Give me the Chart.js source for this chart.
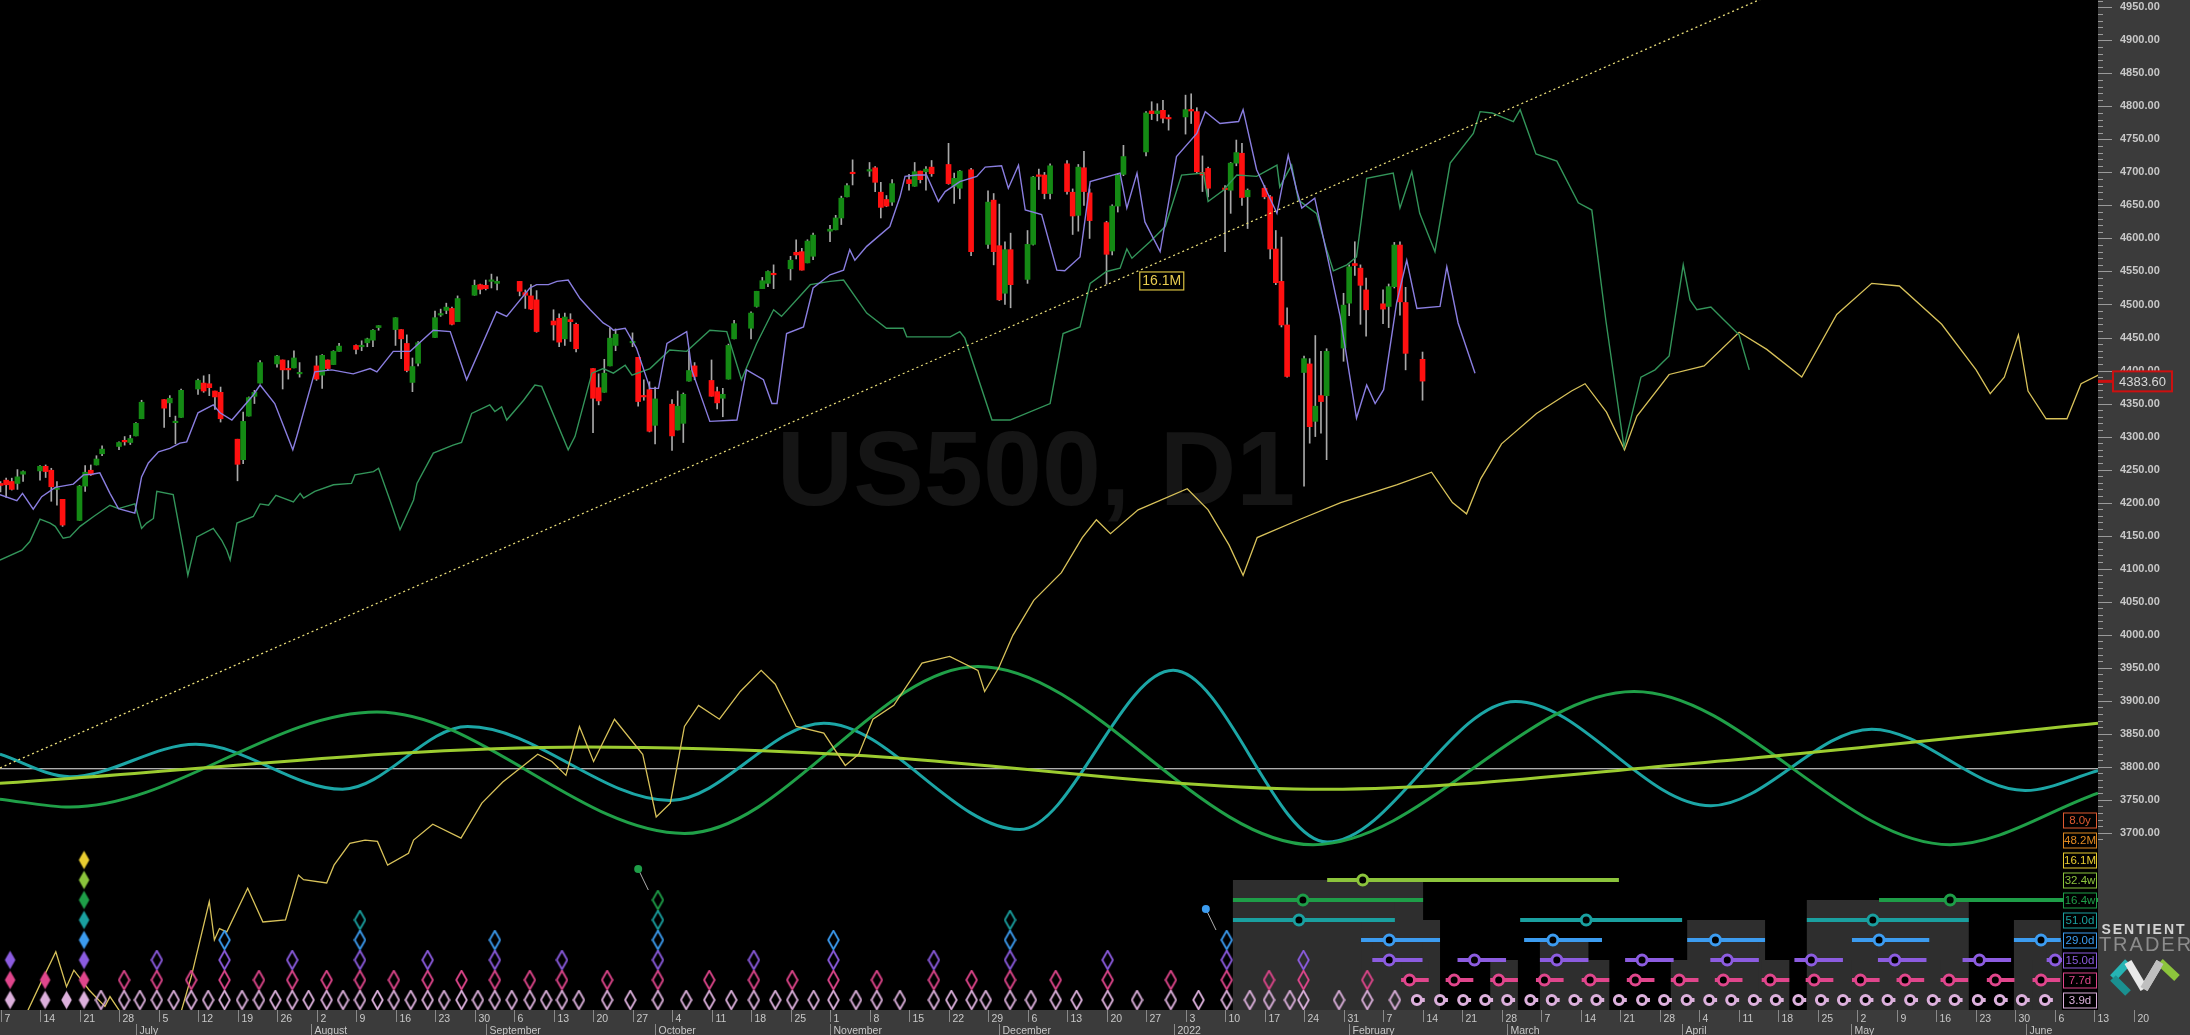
<!DOCTYPE html>
<html><head><meta charset="utf-8">
<script src="https://cdn.jsdelivr.net/npm/chart.js@4.4.1/dist/chart.umd.min.js"></script>
<style>html,body{margin:0;padding:0;background:#3b3b3b;overflow:hidden}#wrap{width:2190px;height:1035px;position:relative}canvas{display:block}</style>
</head><body><div id="wrap"><canvas id="c" width="2190" height="1035" style="width:2190px;height:1035px"></canvas></div>
<script>
// ---------- DATA ----------
const START_DATE = '2021-06-07';
const candleDates = ['2021-06-07','2021-06-08','2021-06-09','2021-06-10','2021-06-11','2021-06-14','2021-06-15','2021-06-16','2021-06-17','2021-06-18','2021-06-21','2021-06-22','2021-06-23','2021-06-24','2021-06-25','2021-06-28','2021-06-29','2021-06-30','2021-07-01','2021-07-02','2021-07-06','2021-07-07','2021-07-08','2021-07-09','2021-07-12','2021-07-13','2021-07-14','2021-07-15','2021-07-16','2021-07-19','2021-07-20','2021-07-21','2021-07-22','2021-07-23','2021-07-26','2021-07-27','2021-07-28','2021-07-29','2021-07-30','2021-08-02','2021-08-03','2021-08-04','2021-08-05','2021-08-06','2021-08-09','2021-08-10','2021-08-11','2021-08-12','2021-08-13','2021-08-16','2021-08-17','2021-08-18','2021-08-19','2021-08-20','2021-08-23','2021-08-24','2021-08-25','2021-08-26','2021-08-27','2021-08-30','2021-08-31','2021-09-01','2021-09-02','2021-09-03','2021-09-07','2021-09-08','2021-09-09','2021-09-10','2021-09-13','2021-09-14','2021-09-15','2021-09-16','2021-09-17','2021-09-20','2021-09-21','2021-09-22','2021-09-23','2021-09-24','2021-09-27','2021-09-28','2021-09-29','2021-09-30','2021-10-01','2021-10-04','2021-10-05','2021-10-06','2021-10-07','2021-10-08','2021-10-11','2021-10-12','2021-10-13','2021-10-14','2021-10-15','2021-10-18','2021-10-19','2021-10-20','2021-10-21','2021-10-22','2021-10-25','2021-10-26','2021-10-27','2021-10-28','2021-10-29','2021-11-01','2021-11-02','2021-11-03','2021-11-04','2021-11-05','2021-11-08','2021-11-09','2021-11-10','2021-11-11','2021-11-12','2021-11-15','2021-11-16','2021-11-17','2021-11-18','2021-11-19','2021-11-22','2021-11-23','2021-11-24','2021-11-26','2021-11-29','2021-11-30','2021-12-01','2021-12-02','2021-12-03','2021-12-06','2021-12-07','2021-12-08','2021-12-09','2021-12-10','2021-12-13','2021-12-14','2021-12-15','2021-12-16','2021-12-17','2021-12-20','2021-12-21','2021-12-22','2021-12-23','2021-12-27','2021-12-28','2021-12-29','2021-12-30','2021-12-31','2022-01-03','2022-01-04','2022-01-05','2022-01-06','2022-01-07','2022-01-10','2022-01-11','2022-01-12','2022-01-13','2022-01-14','2022-01-17','2022-01-18','2022-01-19','2022-01-20','2022-01-21','2022-01-24','2022-01-25','2022-01-26','2022-01-27','2022-01-28','2022-01-31','2022-02-01','2022-02-02','2022-02-03','2022-02-04','2022-02-07','2022-02-08','2022-02-09','2022-02-10','2022-02-11','2022-02-14'];
const candleOpen = [4229,4234,4232,4229,4243,4248,4255,4249,4220,4205,4173,4225,4249,4257,4274,4285,4293,4291,4301,4327,4356,4351,4321,4329,4372,4381,4380,4369,4367,4296,4265,4331,4361,4381,4410,4416,4403,4404,4395,4407,4393,4416,4409,4429,4438,4436,4442,4446,4465,4462,4462,4441,4382,4411,4450,4484,4491,4494,4474,4514,4530,4529,4535,4532,4535,4518,4513,4507,4475,4479,4448,4477,4470,4403,4374,4367,4407,4438,4442,4420,4362,4371,4317,4349,4310,4320,4384,4407,4385,4368,4358,4387,4448,4464,4497,4524,4532,4546,4554,4579,4580,4563,4573,4611,4613,4631,4663,4699,4702,4707,4670,4659,4655,4689,4679,4702,4701,4708,4712,4679,4676,4704,4591,4658,4589,4517,4583,4538,4591,4696,4696,4668,4713,4670,4635,4707,4669,4624,4581,4649,4697,4731,4793,4789,4794,4782,4784,4795,4792,4700,4706,4676,4673,4714,4729,4663,4676,4663,4584,4535,4469,4397,4410,4323,4362,4362,4434,4502,4562,4555,4522,4501,4497,4527,4590,4503,4417];
const candleHigh = [4232,4237,4237,4250,4248,4256,4257,4252,4232,4205,4226,4256,4257,4271,4286,4292,4300,4302,4321,4355,4356,4362,4331,4372,4387,4392,4394,4369,4375,4296,4337,4360,4370,4415,4423,4416,4415,4430,4412,4422,4424,4416,4430,4441,4439,4445,4449,4462,4468,4480,4462,4454,4419,4444,4490,4493,4502,4496,4513,4537,4531,4537,4546,4542,4535,4522,4530,4521,4492,4486,4487,4486,4472,4403,4395,4417,4465,4463,4457,4420,4386,4383,4375,4356,4369,4366,4429,4412,4416,4375,4373,4440,4476,4489,4520,4541,4551,4560,4573,4598,4585,4598,4608,4620,4635,4664,4683,4719,4715,4709,4685,4665,4689,4697,4715,4702,4709,4718,4744,4699,4703,4706,4672,4668,4652,4595,4608,4612,4694,4705,4700,4713,4718,4675,4712,4732,4675,4626,4651,4698,4741,4792,4807,4804,4809,4787,4817,4819,4798,4725,4708,4680,4715,4749,4744,4675,4680,4665,4612,4602,4495,4422,4418,4453,4429,4433,4517,4560,4595,4560,4540,4522,4531,4594,4595,4526,4428];
const candleLow = [4216,4208,4219,4220,4232,4234,4238,4202,4196,4164,4173,4217,4241,4257,4271,4280,4287,4288,4301,4327,4314,4330,4289,4329,4364,4367,4362,4341,4322,4233,4259,4331,4350,4381,4405,4372,4387,4404,4390,4385,4373,4400,4409,4429,4425,4430,4436,4436,4461,4438,4418,4398,4368,4407,4450,4482,4486,4469,4474,4514,4516,4522,4525,4522,4513,4494,4492,4458,4446,4436,4438,4444,4428,4306,4348,4367,4407,4430,4436,4346,4355,4307,4289,4279,4310,4291,4384,4386,4361,4342,4330,4387,4448,4448,4496,4524,4527,4524,4537,4569,4552,4563,4568,4595,4613,4621,4663,4681,4694,4671,4631,4648,4650,4673,4679,4684,4673,4694,4682,4653,4660,4574,4585,4560,4506,4500,4495,4532,4590,4674,4660,4660,4667,4606,4611,4650,4600,4531,4575,4640,4695,4725,4780,4778,4775,4764,4758,4774,4699,4671,4663,4580,4638,4710,4650,4615,4660,4569,4530,4466,4390,4225,4290,4300,4305,4265,4414,4483,4544,4470,4452,4471,4465,4525,4484,4401,4355];
const candleClose = [4226,4227,4220,4239,4247,4255,4247,4224,4222,4166,4225,4246,4242,4266,4281,4291,4292,4297,4320,4352,4343,4358,4321,4370,4385,4369,4374,4360,4327,4258,4323,4359,4367,4412,4422,4401,4401,4419,4395,4387,4423,4403,4429,4437,4432,4437,4448,4461,4468,4480,4448,4400,4406,4442,4480,4486,4496,4470,4509,4529,4523,4524,4537,4535,4520,4514,4493,4459,4469,4443,4481,4474,4433,4358,4354,4396,4449,4455,4443,4353,4360,4308,4357,4301,4346,4364,4400,4391,4361,4351,4364,4438,4471,4487,4520,4536,4550,4545,4567,4575,4552,4596,4605,4614,4631,4661,4680,4698,4702,4685,4647,4649,4683,4683,4701,4689,4705,4698,4683,4691,4702,4580,4655,4580,4507,4583,4530,4591,4693,4694,4668,4710,4671,4634,4708,4671,4627,4576,4649,4696,4724,4790,4789,4793,4782,4781,4795,4793,4701,4696,4676,4674,4714,4730,4662,4673,4663,4584,4533,4469,4391,4418,4315,4346,4353,4429,4499,4557,4559,4529,4492,4493,4527,4590,4504,4426,4384];
const lastPrice = 4383.60;

// 15.0d FLD (purple): day offsets from START_DATE and prices
const fld15Day = [-0.1,2.9,3.9,5.8,7.3,9.7,11.7,12.9,14.7,16.2,17.6,19.4,20.9,23.8,25,26.2,28,30,31.8,33,35,37.7,38.9,41,44.8,46,48.6,51.8,52.5,55.7,58.7,62.5,65.5,66.7,69.6,72.6,76.7,79.7,82.6,87.9,89.7,93.8,95,97.1,98.6,100.6,102.7,104.5,106.8,108,108.6,110.7,112.7,115.1,116.6,118.1,121.6,122.5,125.7,130.5,132.2,135.2,136.7,137.6,139.3,142.3,144,147,149.4,150.5,151.4,153.5,157.6,159.4,160.3,162.4,164.1,166.2,167.4,170,173,174.5,177.4,178.6,180.4,181.6,184.5,187.2,188.6,191.3,193.1,198.4,199.6,201.4,202.8,205.5,208.4,212,213.5,216.1,219.4,220.2,222.6,226.2,228.2,229.7,230.6,232.9,235,237.4,240.3,242.1,243.6,245.1,247.4,249.2,251,255.1,256.3,258.3,261.3];
const fld15Val = [4212,4203,4214,4190,4209,4223,4226,4228,4242,4243,4245,4214,4191,4184,4239,4260,4277,4282,4290,4292,4336,4348,4336,4325,4363,4378,4350,4280,4300,4398,4401,4395,4403,4398,4429,4429,4461,4459,4386,4489,4482,4525,4530,4530,4535,4537,4509,4492,4472,4466,4461,4464,4434,4373,4373,4441,4459,4401,4323,4325,4401,4386,4350,4350,4456,4466,4525,4545,4552,4583,4567,4588,4618,4663,4694,4696,4696,4656,4671,4686,4694,4708,4710,4676,4711,4643,4636,4552,4551,4572,4686,4699,4646,4699,4625,4580,4724,4759,4792,4774,4777,4795,4704,4638,4726,4673,4646,4661,4578,4482,4328,4378,4350,4371,4502,4567,4494,4497,4557,4472,4396];
// 16.4w FLD (green)
const fld164Day = [-0.1,3.8,5.2,7,8.8,9.7,11.1,12.3,14.1,16.5,19.4,20.9,23.8,25,25.9,27.1,27.7,30.6,32.4,33.2,34.8,37.7,39.2,40.1,40.7,41.9,44.8,46,47.5,48.8,51.9,53.1,53.7,55.7,59,62.2,62.8,66.1,67,69,70.8,73.2,73.8,76.7,80.2,81.7,83.5,86.7,87.6,88.8,89.7,92.7,94.7,95.9,100.6,101.8,104.8,106.8,108.6,110.7,111.9,115.1,118.6,121.6,125.7,128.7,131.3,134,137,138.4,143.5,147,149.4,151.7,153.5,157,160,160.6,168.3,170,170.9,175.7,178.9,186,188.3,191.3,193.1,196,198.4,199.6,200.5,203.7,206.4,209.3,213.2,214,216.7,219.1,222.6,226.2,226.7,228.8,230,233.2,235,236.2,238.6,240.3,242.1,246.8,248,250.1,251.5,254.2,256.9,261,262.2,264.3,268.1,269.3,272.1,275.8,279.6,282,284.5,287.7,290.7,293.2,295.7,298.2,299.4,300.6,303.1,305.6,308.1,309.9];
const fld164Val = [4113,4128,4141,4175,4169,4164,4146,4148,4164,4179,4196,4191,4198,4161,4169,4176,4217,4212,4129,4090,4148,4161,4143,4128,4113,4169,4179,4198,4196,4211,4201,4214,4207,4217,4227,4229,4242,4247,4252,4204,4159,4204,4229,4275,4287,4291,4335,4348,4338,4345,4325,4355,4378,4376,4280,4300,4396,4403,4396,4408,4393,4403,4431,4429,4461,4459,4386,4441,4492,4482,4530,4535,4537,4509,4487,4464,4464,4451,4451,4459,4449,4325,4325,4350,4456,4466,4532,4550,4555,4584,4570,4595,4618,4696,4699,4656,4673,4696,4694,4711,4678,4711,4658,4638,4583,4551,4560,4572,4691,4699,4646,4701,4638,4580,4714,4759,4792,4790,4777,4795,4728,4717,4654,4643,4475,4284,4390,4401,4422,4560,4507,4492,4496,4475,4454,4401];
// 16.1M FLD (yellow)
const fld161Day = [3.5,4.9,7.1,9.8,11.7,13,15.7,18.5,19.4,21.2,26,32,33.8,37,37.9,38.8,40.1,43.8,46.5,50.5,52.8,53.7,57.8,59.1,61.9,64.6,66.8,68.6,72.3,73.2,76.6,81.6,85.3,89,92.7,95.2,97.7,100.2,102.6,105.1,108.8,113.8,116.2,118.7,121.2,123.7,127.4,131.1,134.8,137.3,141,145.9,149.7,152.1,154.6,158.3,163.3,168.2,173.2,174.4,176.9,179.4,183.1,188,191.7,194.2,196.7,201.6,210.3,214,217.7,220.2,222.7,230.1,237.5,247.4,253.6,257.3,259.8,262.3,266,272.2,278.4,280.8,284.6,287.8,290,295.7,301.9,308.1,313,319.2,325.4,331.6,336.5,344,350.1,352.6,355.1,357.6,359.3,362.5,366.2,368.7,372];
const fld161Val = [3405,3432,3472,3520,3467,3492,3462,3437,3452,3429,3400,3429,3482,3596,3538,3555,3550,3616,3565,3568,3636,3629,3624,3651,3684,3689,3687,3651,3669,3689,3713,3692,3745,3777,3802,3819,3808,3787,3861,3808,3872,3819,3724,3745,3861,3893,3872,3914,3946,3925,3861,3851,3802,3819,3872,3893,3957,3967,3946,3914,3950,3999,4052,4094,4147,4174,4153,4189,4221,4189,4136,4090,4147,4174,4200,4227,4246,4200,4183,4236,4289,4335,4369,4380,4337,4280,4331,4394,4407,4458,4432,4390,4485,4532,4528,4470,4401,4365,4390,4454,4369,4327,4327,4380,4394];
// dominant cycle waves (cycle panel)
const wave51Day = [-0.1,12.3,34.6,60.6,82.8,118.7,145.9,180.6,207.8,235.1,268.5,303.1,331.6,358.8,371.7];
const wave51Val = [3819,3785,3834,3766,3861,3749,3866,3705,3946,3686,3899,3741,3857,3764,3794];
const wave164Day = [-0.1,12.3,66.7,121.2,173.2,232.6,289.5,345.5,371.7];
const wave164Val = [3751,3739,3883,3699,3952,3682,3914,3682,3760];
const wave324Day = [-0.1,103.9,148.4,235.1,300,371.7];
const wave324Val = [3775,3830,3819,3766,3805,3866];
const zeroLineValue = 3797;
// trend line (anchor points) and its label
const trendDays = [0, 300];
const trendVals = [3798.7, 4917.7];
const trendLabel = '16.1M'; const trendLabelDay = 201.8; const trendLabelVal = 4550;
// cycle names and colours (lowest to highest)
const cycleNames = ['3.9d','7.7d','15.0d','29.0d','51.0d','16.4w','32.4w','16.1M','48.2M','8.0y'];
const cycleColors = ['#dcb0dc','#e0468c','#8c5ce0','#3c9cf0','#1aa0a0','#1e9e48','#8cc43c','#e8cc30','#e08a20','#e05a30'];
// past troughs: day offset, highest cycle level, filled
const troughDay = [1.7,7.9,11.7,14.8,17.8,21.9,24.7,27.7,30.7,33.8,36.8,39.7,42.8,45.8,48.7,51.7,54.6,57.8,60.7,63.7,66.8,69.7,72.7,75.7,78.6,81.7,84.6,87.6,90.6,93.8,96.7,99.5,102.5,107.5,111.6,116.5,121.5,125.6,129.5,133.5,137.3,140.3,144.1,147.6,151.6,155.3,159.4,165.4,168.5,172.1,174.6,178.9,182.6,187,190.7,196.2,201.4,207.4,212.3,217.3,221.4,224.8,228.5,230.9,237.2,242.2,247.1];
const troughLevel = [2,1,0,7,0,1,0,2,0,1,0,3,0,1,0,2,0,1,0,4,0,1,0,2,0,1,0,3,0,1,0,2,0,1,0,5,0,1,0,2,0,1,0,3,0,1,0,2,0,1,0,4,0,1,0,2,0,1,0,3,0,1,0,2,0,1,0];
const troughFilled = [1,1,1,1];
// confirmation dots
const dotDay = [113.0, 213.6]; const dotLevel = [5, 3];
// future projections
const projLevel = [6,5,5,4,4,4,3,3,3,3,3,2,2,2,2,2,2,2,2,2,1,1,1,1,1,1,1,1,1,1,1,1,1,1,1];
const projStart = [235.1,218.4,332.9,218.4,269.3,320.1,241.1,270.0,298.9,328.1,356.8,243.1,258.2,272.8,287.9,303.0,317.9,332.7,347.7,362.6,248.2,256.1,264.0,272.1,280.2,288.2,296.0,303.8,312.1,319.9,328.1,336.0,343.8,352.0,360.1];
const projMid = [241.4,230.8,345.5,230.1,281.0,331.8,246.1,275.1,303.9,332.9,361.6,246.1,261.2,275.8,290.9,306.0,320.9,335.7,350.7,364.1,249.7,257.6,265.5,273.6,281.7,289.7,297.5,305.3,313.6,321.4,329.6,337.5,345.3,353.5,361.6];
const projEnd = [286.8,252.1,372.5,247.1,298.0,348.8,255.1,283.8,312.7,341.8,365.1,252.0,266.8,281.4,296.5,311.6,326.5,341.3,356.3,365.3,253.1,261.0,268.9,277.0,285.1,293.1,300.9,308.7,317.0,324.8,333.0,340.9,348.7,356.9,365.0];
const projBox = [0,1,0,1,0,1,1,0,1,0,1,1,0,1,0,1,0,1,0,1,1,0,1,0,1,0,1,0,1,0,1,0,1,0,1];
const proj39Mid = [251.0,255.1,259.2,263.1,267.0,271.1,274.9,278.9,282.8,286.8,290.9,294.8,298.8,302.8,306.7,310.7,314.6,318.6,322.6,326.5,330.5,334.4,338.4,342.4,346.3,350.4,354.3,358.2,362.3];
// axis ticks
const weekTickDates = ['2021-06-07','2021-06-14','2021-06-21','2021-06-28','2021-07-05','2021-07-12','2021-07-19','2021-07-26','2021-08-02','2021-08-09','2021-08-16','2021-08-23','2021-08-30','2021-09-06','2021-09-13','2021-09-20','2021-09-27','2021-10-04','2021-10-11','2021-10-18','2021-10-25','2021-11-01','2021-11-08','2021-11-15','2021-11-22','2021-11-29','2021-12-06','2021-12-13','2021-12-20','2021-12-27','2022-01-03','2022-01-10','2022-01-17','2022-01-24','2022-01-31','2022-02-07','2022-02-14','2022-02-21','2022-02-28','2022-03-07','2022-03-14','2022-03-21','2022-03-28','2022-04-04','2022-04-11','2022-04-18','2022-04-25','2022-05-02','2022-05-09','2022-05-16','2022-05-23','2022-05-30','2022-06-06','2022-06-13','2022-06-20'];
const monthTickDates = ['2021-07-01','2021-08-01','2021-09-01','2021-10-01','2021-11-01','2021-12-01','2022-01-01','2022-02-01','2022-03-01','2022-04-01','2022-05-01','2022-06-01'];
const monthTickLabels = ['July','August','September','October','November','December','2022','February','March','April','May','June'];
const priceTicks = [3700,3750,3800,3850,3900,3950,4000,4050,4100,4150,4200,4250,4300,4350,4400,4450,4500,4550,4600,4650,4700,4750,4800,4850,4900,4950];
const symbolText = 'US500, D1';

// ---------- HELPERS ----------
const startMs = Date.parse(START_DATE + 'T00:00:00Z');
const dayOf = s => (Date.parse(s + 'T00:00:00Z') - startMs) / 864e5;
const pts = (xs, ys) => xs.map((x, i) => ({x, y: ys[i]}));
const rowVal = lvl => lvl + 0.5;

function diamondImg(color, filled) {
  const c = document.createElement('canvas'); c.width = 13; c.height = 21;
  const g = c.getContext('2d');
  g.beginPath(); g.moveTo(6.5, 1.2); g.lineTo(11.8, 10.5); g.lineTo(6.5, 19.8); g.lineTo(1.2, 10.5); g.closePath();
  if (filled) { g.fillStyle = color; g.fill(); } else { g.strokeStyle = color; g.lineWidth = 1.8; g.stroke(); }
  return c;
}
function noPad(s) { s.paddingTop = 0; s.paddingBottom = 0; s.paddingLeft = 0; s.paddingRight = 0; }

const GREEN = '#148a14', RED = '#ff1010', WICK = '#a8a8a8';
const cx = candleDates.map(dayOf);
const wickData = cx.map((x, i) => ({x, y: [candleLow[i], candleHigh[i]]}));
const bodyData = cx.map((x, i) => ({x, y: [candleOpen[i], candleClose[i]]}));
const bodyColors = cx.map((x, i) => candleClose[i] >= candleOpen[i] ? GREEN : RED);

const datasets = [];
for (let L = 0; L <= 6; L++) {
  const bars = []; const circ = [];
  if (L === 0) {
    proj39Mid.forEach(m => { bars.push({x: m - 0.6, y: rowVal(0)}, {x: m + 1.4, y: rowVal(0)}, {x: m + 1.5, y: null}); circ.push({x: m, y: rowVal(0)}); });
  } else {
    projLevel.forEach((lv, i) => { if (lv !== L) return; bars.push({x: projStart[i], y: rowVal(L)}, {x: projEnd[i], y: rowVal(L)}, {x: projEnd[i] + 0.01, y: null}); circ.push({x: projMid[i], y: rowVal(L)}); });
  }
  if (!circ.length) continue;
  datasets.push({type: 'scatter', yAxisID: 'yRow', data: circ, pointStyle: 'circle', pointRadius: L === 0 ? 4.5 : 5, borderWidth: 3, borderColor: cycleColors[L], backgroundColor: '#000', order: 1});
  datasets.push({type: 'line', yAxisID: 'yRow', data: bars, borderColor: cycleColors[L], borderWidth: 4, pointRadius: 0, spanGaps: false, order: 2});
}
for (let L = 0; L <= 7; L++) {
  const data = [], styles = [];
  troughDay.forEach((d, i) => { if (troughLevel[i] >= L) { data.push({x: d, y: rowVal(L)}); styles.push(diamondImg(cycleColors[L], !!troughFilled[i])); } });
  datasets.push({type: 'scatter', yAxisID: 'yRow', data, pointStyle: styles, pointRadius: 5, order: 1});
}
dotDay.forEach((d, i) => {
  datasets.push({type: 'line', yAxisID: 'yRow', data: [{x: d, y: rowVal(dotLevel[i]) + 1.55}, {x: d + 1.8, y: rowVal(dotLevel[i]) + 0.5}], borderColor: '#b0b0b0', borderWidth: 1, pointRadius: [4, 0], pointBackgroundColor: cycleColors[dotLevel[i]], pointBorderWidth: 0, order: 1});
});
datasets.push({type: 'line', data: pts(fld15Day, fld15Val), borderColor: '#8a7ee0', borderWidth: 1.4, pointRadius: 0, order: 5});
datasets.push({type: 'line', data: pts(fld164Day, fld164Val), borderColor: '#33955a', borderWidth: 1.4, pointRadius: 0, order: 5});
datasets.push({type: 'line', data: pts(fld161Day, fld161Val), borderColor: '#d8c25a', borderWidth: 1.3, pointRadius: 0, order: 6});
datasets.push({type: 'bar', data: bodyData, backgroundColor: bodyColors, barThickness: 5, grouped: false, minBarLength: 1.5, borderWidth: 0, order: 8});
datasets.push({type: 'bar', data: wickData, backgroundColor: WICK, barThickness: 1, grouped: false, borderWidth: 0, order: 9});
datasets.push({type: 'line', data: [{x: -1, y: zeroLineValue}, {x: 380, y: zeroLineValue}], borderColor: '#e8e8e8', borderWidth: 1.2, pointRadius: 0, order: 12});
datasets.push({type: 'line', data: pts(wave324Day, wave324Val), borderColor: '#9ccc30', borderWidth: 3, pointRadius: 0, cubicInterpolationMode: 'monotone', order: 11});
datasets.push({type: 'line', data: pts(wave164Day, wave164Val), borderColor: '#20a048', borderWidth: 3, pointRadius: 0, cubicInterpolationMode: 'monotone', order: 11});
datasets.push({type: 'line', data: pts(wave51Day, wave51Val), borderColor: '#1ca6a6', borderWidth: 3, pointRadius: 0, cubicInterpolationMode: 'monotone', order: 11});

// ---------- PLUGIN ----------
const deco = {
  id: 'deco',
  beforeDraw(chart) {
    const {ctx, chartArea: a} = chart;
    ctx.save();
    ctx.fillStyle = '#3b3b3b'; ctx.fillRect(0, 0, chart.width, chart.height);
    ctx.fillStyle = '#000'; ctx.fillRect(a.left, a.top, a.right - a.left, a.bottom - a.top);
    ctx.restore();
  },
  beforeDatasetsDraw(chart) {
    const {ctx, chartArea: a, scales: {x, y, yRow}} = chart;
    ctx.save();
    ctx.beginPath(); ctx.rect(a.left, a.top, a.right - a.left, a.bottom - a.top); ctx.clip();
    ctx.fillStyle = '#151515'; ctx.font = 'bold 106px "Liberation Sans", Arial, sans-serif';
    ctx.textAlign = 'center'; ctx.textBaseline = 'middle';
    ctx.fillText(symbolText, x.getPixelForValue(183.5), y.getPixelForValue(4240));
    ctx.fillStyle = '#2e2e2e';
    projLevel.forEach((lv, i) => {
      if (!projBox[i]) return;
      const x0 = x.getPixelForValue(projStart[i]), x1 = x.getPixelForValue(projEnd[i]);
      const yt = yRow.getPixelForValue(lv + 1.5), yb = yRow.getPixelForValue(0);
      ctx.fillRect(x0, yt, x1 - x0, yb - yt);
    });
    ctx.restore();
  },
  afterDatasetsDraw(chart) {
    const {ctx, chartArea: a, scales: {x, y, yRow}} = chart;
    ctx.save();
    ctx.beginPath(); ctx.rect(a.left, a.top, a.right - a.left, a.bottom - a.top); ctx.clip();
    const x0 = x.getPixelForValue(trendDays[0]), y0 = y.getPixelForValue(trendVals[0]);
    const x1 = x.getPixelForValue(trendDays[1]), y1 = y.getPixelForValue(trendVals[1]);
    const sl = (y1 - y0) / (x1 - x0);
    ctx.strokeStyle = '#e8dc78'; ctx.lineWidth = 1.3; ctx.setLineDash([2, 3]);
    ctx.beginPath(); ctx.moveTo(a.left, y0 + (a.left - x0) * sl); ctx.lineTo(a.right, y0 + (a.right - x0) * sl); ctx.stroke();
    ctx.setLineDash([]);
    const lx = x.getPixelForValue(trendLabelDay), ly = y.getPixelForValue(trendLabelVal);
    ctx.fillStyle = '#000'; ctx.fillRect(lx, ly, 44, 18);
    ctx.strokeStyle = '#d8c040'; ctx.lineWidth = 1.2; ctx.strokeRect(lx + 0.5, ly + 0.5, 44, 18);
    ctx.fillStyle = '#e8cc50'; ctx.font = '14px "Liberation Sans", Arial'; ctx.textAlign = 'center'; ctx.textBaseline = 'middle';
    ctx.fillText(trendLabel, lx + 22.5, ly + 10);
    ctx.font = '11.5px "Liberation Sans", Arial'; ctx.lineWidth = 1;
    cycleNames.forEach((n, i) => {
      const cy = yRow.getPixelForValue(rowVal(i));
      const bx = a.right - 35, bw = 33, bh = 15;
      ctx.fillStyle = '#000'; ctx.fillRect(bx, cy - bh / 2, bw, bh);
      ctx.strokeStyle = cycleColors[i]; ctx.strokeRect(bx + 0.5, cy - bh / 2 + 0.5, bw, bh);
      ctx.fillStyle = cycleColors[i]; ctx.textAlign = 'center'; ctx.fillText(n, bx + bw / 2 + 0.5, cy + 1);
    });
    ctx.restore();
  },
  afterDraw(chart) {
    const {ctx, chartArea: a, scales: {x, y}} = chart;
    ctx.save();
    ctx.strokeStyle = '#9a9a9a'; ctx.lineWidth = 1;
    for (let p = 3690; p <= 4960; p += 10) {
      const py = Math.round(y.getPixelForValue(p)) + 0.5;
      const major = p % 50 === 0;
      ctx.beginPath(); ctx.moveTo(a.right, py); ctx.lineTo(a.right + (major ? 14 : 5), py); ctx.stroke();
    }
    const lpY = y.getPixelForValue(lastPrice);
    ctx.fillStyle = '#cc1010'; ctx.fillRect(a.right, lpY - 1.5, 15, 3);
    ctx.fillStyle = '#3b3b3b'; ctx.fillRect(a.right + 15, lpY - 10, 59, 20);
    ctx.strokeStyle = '#cc1010'; ctx.lineWidth = 2; ctx.strokeRect(a.right + 15, lpY - 10, 59, 20);
    ctx.fillStyle = '#d8d8d8'; ctx.font = '13px "Liberation Sans", Arial'; ctx.textAlign = 'center'; ctx.textBaseline = 'middle';
    ctx.fillText(lastPrice.toFixed(2), a.right + 44.5, lpY + 1);
    ctx.font = '10.5px "Liberation Sans", Arial'; ctx.textAlign = 'left'; ctx.fillStyle = '#c8c8c8';
    ctx.strokeStyle = '#8a8a8a'; ctx.lineWidth = 1;
    weekTickDates.forEach(s => {
      const px = Math.round(x.getPixelForValue(dayOf(s))) + 0.5;
      if (px > chart.width) return;
      ctx.beginPath(); ctx.moveTo(px, a.bottom); ctx.lineTo(px, a.bottom + 12); ctx.stroke();
      ctx.fillText(String(+s.slice(8)), px + 3, a.bottom + 9);
    });
    monthTickDates.forEach((s, i) => {
      const px = Math.round(x.getPixelForValue(dayOf(s))) + 0.5;
      ctx.beginPath(); ctx.moveTo(px, a.bottom + 14); ctx.lineTo(px, chart.height); ctx.stroke();
      ctx.fillText(monthTickLabels[i], px + 3, a.bottom + 21);
    });
    ctx.textAlign = 'center'; ctx.textBaseline = 'middle';
    ctx.fillStyle = '#d4d4d4'; ctx.font = 'bold 14px "Liberation Sans", Arial';
    try { ctx.letterSpacing = '2px'; } catch (e) {}
    ctx.fillText('SENTIENT', 2144, 930);
    ctx.fillStyle = '#8c8c8c'; ctx.font = '20px "Liberation Sans", Arial';
    ctx.fillText('TRADER', 2146, 945);
    try { ctx.letterSpacing = '0px'; } catch (e) {}
    ctx.lineJoin = 'miter'; ctx.lineWidth = 8;
    const segs = [[[2113,978],[2128,962]],[[2128,962],[2144,989]],[[2144,989],[2160,962]],[[2160,962],[2177,978]],[[2113,978],[2128,993]],[[2160,962],[2144,989]]];
    const cols = ['#26b4b4','#e8e8e8','#e0e0e0','#8cc43c','#1a9090','#bfbfbf'];
    segs.forEach((sg, i) => { ctx.strokeStyle = cols[i]; ctx.beginPath(); ctx.moveTo(sg[0][0], sg[0][1]); ctx.lineTo(sg[1][0], sg[1][1]); ctx.stroke(); });
    ctx.restore();
  }
};

Chart.defaults.font.family = '"Liberation Sans", Arial, sans-serif';
new Chart(document.getElementById('c'), {
  type: 'bar',
  data: {datasets},
  options: {
    responsive: false, animation: false, events: [], devicePixelRatio: 1,
    layout: {padding: 0, autoPadding: false},
    plugins: {legend: {display: false}, tooltip: {enabled: false}},
    scales: {
      x: {type: 'linear', min: -0.09, max: 371.7, offset: false, grid: {display: false, drawTicks: false}, border: {display: false},
          ticks: {display: false}, afterFit: s => { s.height = 25; noPad(s); }},
      y: {type: 'linear', position: 'right', min: 3431.7, max: 4961.05, grid: {display: false, drawTicks: false}, border: {display: false},
          afterBuildTicks: s => { s.ticks = priceTicks.map(v => ({value: v})); },
          ticks: {color: '#c8c8c8', padding: 22, font: {size: 11, weight: 'bold'}, callback: v => Number(v).toFixed(2)},
          afterFit: s => { s.width = 92; noPad(s); }},
      yRow: {type: 'linear', display: false, min: 0, max: 50.5}
    }
  },
  plugins: [deco]
});
</script>
</body></html>
